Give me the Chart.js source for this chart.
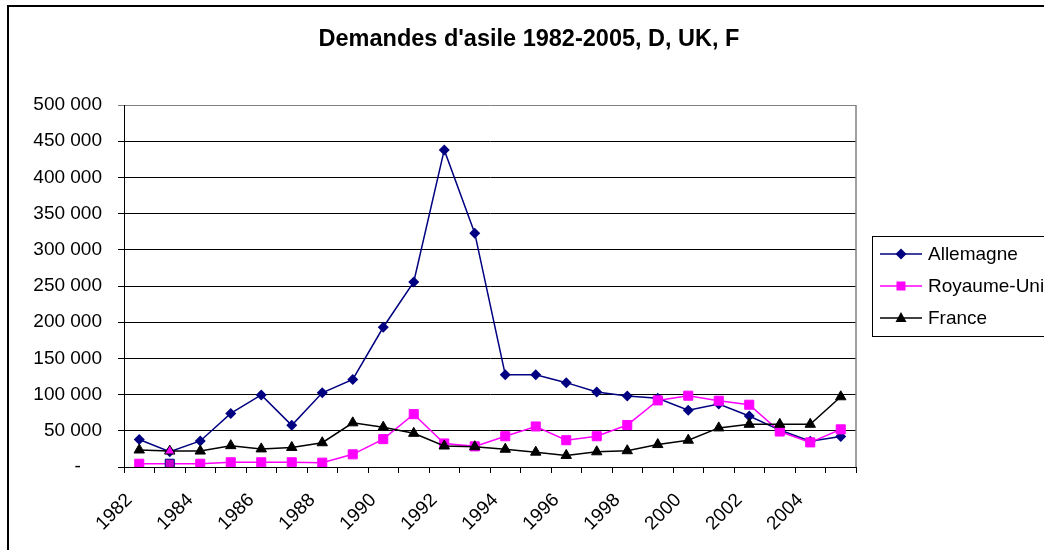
<!DOCTYPE html>
<html>
<head>
<meta charset="utf-8">
<script src="https://cdn.jsdelivr.net/npm/chart.js@4/dist/chart.umd.min.js"></script>
<style>
  body { margin: 0; background: #fff; }
  #c { display: block; }
</style>
</head>
<body>
<canvas id="c" width="1044" height="550"></canvas>
<script>
// data
var years = ["1982", "1983", "1984", "1985", "1986", "1987", "1988", "1989", "1990", "1991", "1992", "1993",
             "1994", "1995", "1996", "1997", "1998", "1999", "2000", "2001", "2002", "2003", "2004", "2005"];
var allemagne = [38000, 21000, 36000, 74000, 99500, 57500, 102500, 121000, 193000, 255500, 438000, 323000,
                 127500, 127500, 116500, 103500, 98000, 95000, 78500, 87000, 70500, 51000, 35500, 42000];
var royaumeUni = [4500, 4500, 4500, 6500, 6500, 6500, 6000, 17500, 38500, 73000, 32500, 28500,
                  42500, 56000, 37000, 42500, 58000, 92000, 98500, 91500, 86000, 49000, 34000, 52000];
var france = [23500, 22000, 22000, 29500, 25000, 27000, 33500, 61000, 55000, 46500, 29000, 28000,
              24500, 20500, 16000, 21000, 22500, 31000, 37000, 54000, 59000, 59000, 59000, 97000];
var yTickLabels = ["-    ", "50 000", "100 000", "150 000", "200 000", "250 000",
                   "300 000", "350 000", "400 000", "450 000", "500 000"];
var xTickLabels = ["1982", "", "1984", "", "1986", "", "1988", "", "1990", "", "1992", "",
                   "1994", "", "1996", "", "1998", "", "2000", "", "2002", "", "2004", ""];

var FONT = '"Liberation Sans", Arial, sans-serif';

// 1983 markers are drawn with mixed colours in the original
var ukFill = royaumeUni.map(function (v, i) { return i === 1 ? '#cc00cc' : '#ff00ff'; });
var ukBorder = royaumeUni.map(function (v, i) { return i === 1 ? '#000080' : '#ff00ff'; });
var frFill = france.map(function (v, i) { return i === 1 ? '#ff00ff' : '#000000'; });

var legendItems = [
    { text: "Allemagne", color: "#000080", style: "diamond" },
    { text: "Royaume-Uni", color: "#ff00ff", style: "square" },
    { text: "France", color: "#000000", style: "triangle" }
];

function marker(ctx, style, x, y, color) {
    ctx.fillStyle = color;
    ctx.beginPath();
    if (style === "diamond") {
        ctx.moveTo(x, y - 5.5); ctx.lineTo(x + 5.5, y); ctx.lineTo(x, y + 5.5); ctx.lineTo(x - 5.5, y);
    } else if (style === "square") {
        ctx.rect(x - 4.5, y - 4.5, 9, 9);
    } else {
        ctx.moveTo(x, y - 6); ctx.lineTo(x + 5.5, y + 4); ctx.lineTo(x - 5.5, y + 4);
    }
    ctx.closePath();
    ctx.fill();
}

var decor = {
    id: "decor",
    afterDraw: function (chart) {
        var ctx = chart.ctx;
        var a = chart.chartArea;
        ctx.save();
        // outer frame
        ctx.strokeStyle = "#000";
        ctx.lineWidth = 2;
        ctx.strokeRect(8, 6, 1100, 600);
        // plot area right edge
        ctx.strokeStyle = "#808080";
        ctx.lineWidth = 1.5;
        ctx.beginPath();
        ctx.moveTo(a.right, a.top);
        ctx.lineTo(a.right, a.bottom);
        ctx.stroke();
        // title
        ctx.fillStyle = "#000";
        ctx.font = "bold 23.5px " + FONT;
        ctx.textAlign = "center";
        ctx.textBaseline = "middle";
        ctx.fillText("Demandes d'asile 1982-2005, D, UK, F", 529, 40);
        // legend
        ctx.strokeStyle = "#000";
        ctx.lineWidth = 1;
        ctx.strokeRect(872.5, 236.5, 200, 100);
        ctx.font = "19px " + FONT;
        ctx.textAlign = "left";
        legendItems.forEach(function (it, i) {
            var y = 254 + i * 32;
            ctx.strokeStyle = it.color;
            ctx.lineWidth = 1.5;
            ctx.beginPath();
            ctx.moveTo(880, y);
            ctx.lineTo(922, y);
            ctx.stroke();
            marker(ctx, it.style, 901, y, it.color);
            ctx.fillStyle = "#000";
            ctx.fillText(it.text, 928, y + 1);
        });
        ctx.restore();
    }
};

var ctx = document.getElementById("c");
var myChart = new Chart(ctx, {
    type: 'line',
    data: {
        labels: years,
        datasets: [
            {
                label: "Allemagne",
                data: allemagne,
                borderColor: '#000080',
                backgroundColor: '#000080',
                borderWidth: 1.5,
                pointStyle: 'rectRot',
                pointRadius: 5.5,
                pointBorderWidth: 0,
                tension: 0,
                order: 2
            },
            {
                label: "Royaume-Uni",
                data: royaumeUni,
                borderColor: '#ff00ff',
                pointBackgroundColor: ukFill,
                pointBorderColor: ukBorder,
                borderWidth: 1.5,
                pointStyle: 'rect',
                pointRadius: 6.4,
                pointBorderWidth: 1,
                tension: 0,
                order: 1
            },
            {
                label: "France",
                data: france,
                borderColor: '#000000',
                pointBackgroundColor: frFill,
                pointBorderColor: '#000000',
                borderWidth: 1.5,
                pointStyle: 'triangle',
                pointRadius: 6,
                pointBorderWidth: 1,
                tension: 0,
                order: 0
            }
        ]
    },
    plugins: [decor],
    options: {
        responsive: false,
        animation: false,
        layout: {
            padding: { left: 0, top: 105, right: 188, bottom: 0 }
        },
        plugins: {
            legend: { display: false },
            title: { display: false },
            tooltip: { enabled: false }
        },
        scales: {
            x: {
                offset: true,
                afterFit: function (s) { s.height = 83; },
                grid: {
                    offset: true,
                    drawOnChartArea: false,
                    drawTicks: true,
                    tickLength: 6,
                    color: '#000'
                },
                border: { color: '#000', width: 1 },
                ticks: {
                    autoSkip: false,
                    maxRotation: 45,
                    minRotation: 45,
                    padding: 16,
                    labelOffset: -10,
                    color: '#000',
                    font: { family: FONT, size: 19 },
                    callback: function (v, i) { return xTickLabels[i]; }
                }
            },
            y: {
                min: 0,
                max: 500000,
                afterFit: function (s) { s.width = 124; },
                grid: {
                    tickLength: 6,
                    color: function (c) { return c.tick && c.tick.value === 500000 ? '#808080' : '#000'; }
                },
                border: { color: '#000', width: 1 },
                ticks: {
                    stepSize: 50000,
                    padding: 16,
                    color: '#000',
                    font: { family: FONT, size: 19 },
                    callback: function (v, i) { return yTickLabels[i]; }
                }
            }
        }
    }
});
</script>
</body>
</html>
